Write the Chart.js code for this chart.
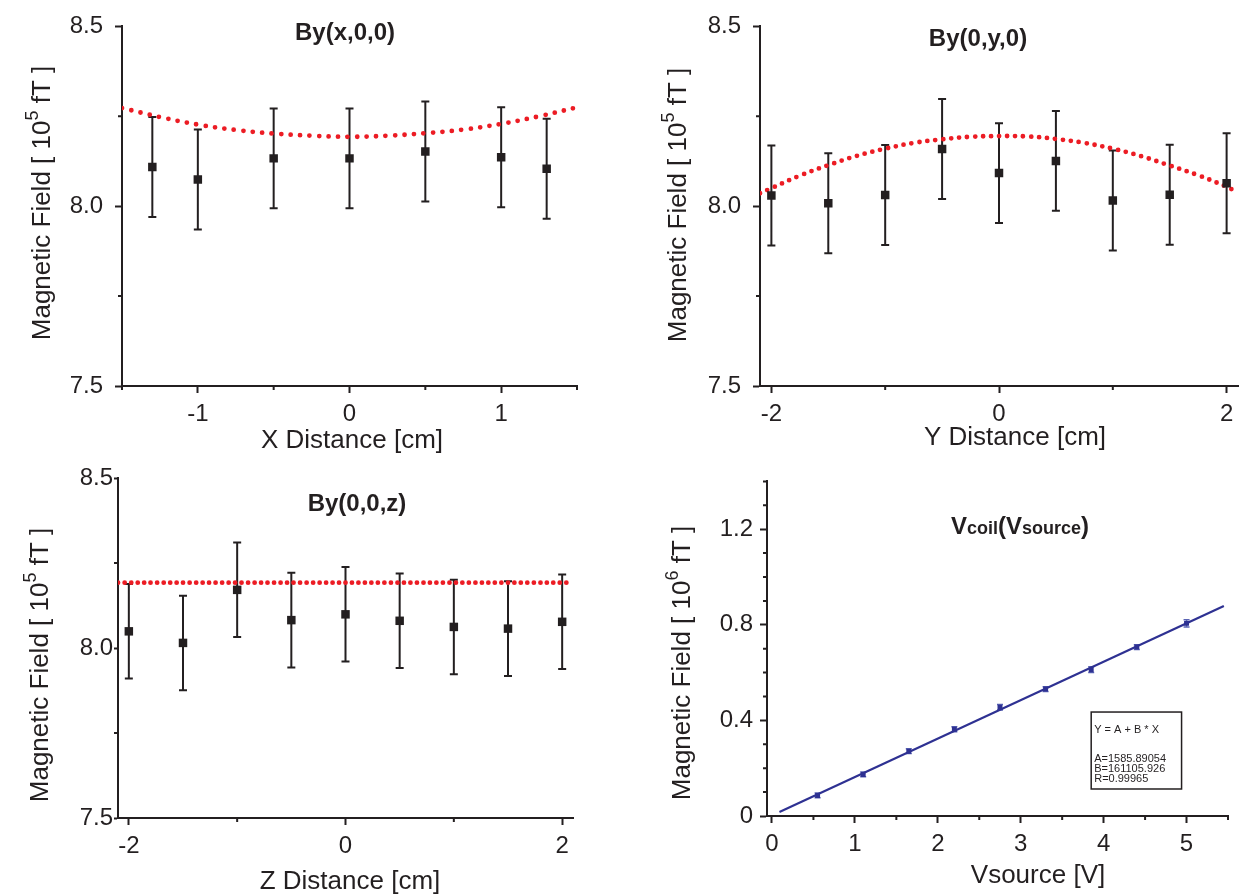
<!DOCTYPE html>
<html>
<head>
<meta charset="utf-8">
<title>Magnetic field of the coil</title>
<script src="https://cdn.jsdelivr.net/npm/chart.js@4.4.1/dist/chart.umd.min.js"></script>
<style>
  html, body { margin: 0; padding: 0; background: #fff; }
  #wrap { position: relative; width: 1240px; height: 896px; overflow: hidden; }
  canvas { position: absolute; }
</style>
</head>
<body>
<div id="wrap">
  <canvas id="cX" width="620" height="460" style="left:0;top:0"></canvas>
  <canvas id="cY" width="624" height="460" style="left:620px;top:0"></canvas>
  <canvas id="cZ" width="620" height="436" style="left:0;top:460px"></canvas>
  <canvas id="cV" width="620" height="436" style="left:620px;top:460px"></canvas>
</div>
<script>
// By(x,0,0) - measured points with error bars
var xPos = [-1.3, -1.0, -0.5, 0, 0.5, 1.0, 1.3];
var xField = [8.109, 8.074, 8.133, 8.133, 8.152, 8.136, 8.104];
var xErr = [0.139, 0.139, 0.139, 0.139, 0.139, 0.139, 0.139];
// calculated curve
var xCalcPos = [-1.5, -1.25, -1.0, -0.75, -0.5, -0.25, 0, 0.25, 0.5, 0.75, 1.0, 1.25, 1.5];
var xCalc = [8.273, 8.248, 8.227, 8.212, 8.202, 8.196, 8.193, 8.196, 8.203, 8.213, 8.229, 8.250, 8.275];

// By(0,y,0)
var yPos = [-2, -1.5, -1, -0.5, 0, 0.5, 1, 1.5, 2];
var yField = [8.030, 8.008, 8.031, 8.159, 8.092, 8.126, 8.016, 8.032, 8.064];
var yErr = [0.139, 0.139, 0.139, 0.139, 0.139, 0.139, 0.139, 0.139, 0.139];
var yCalcPos = [-2.1, -2, -1.75, -1.5, -1.25, -1, -0.75, -0.5, -0.25, 0, 0.25, 0.5, 0.75, 1, 1.25, 1.5, 1.75, 2, 2.1];
var yCalc = [8.036, 8.050, 8.085, 8.114, 8.140, 8.160, 8.176, 8.186, 8.193, 8.195, 8.194, 8.187, 8.176, 8.160, 8.139, 8.113, 8.086, 8.054, 8.038];

// By(0,0,z)
var zPos = [-2, -1.5, -1, -0.5, 0, 0.5, 1, 1.5, 2];
var zField = [8.049, 8.015, 8.171, 8.082, 8.099, 8.080, 8.062, 8.057, 8.077];
var zErr = [0.139, 0.139, 0.139, 0.139, 0.139, 0.139, 0.139, 0.139, 0.139];
var zCalcPos = [-2.1, 2.1];
var zCalc = [8.192, 8.192];

// Vcoil(Vsource)
var vSource = [0.55, 1.1, 1.65, 2.2, 2.75, 3.3, 3.85, 4.4, 5.0];
var vField = [0.086, 0.174, 0.271, 0.363, 0.455, 0.531, 0.612, 0.707, 0.806];
var vErr = [0.010, 0.010, 0.010, 0.010, 0.012, 0.010, 0.012, 0.010, 0.015];
var fitPos = [0.09, 5.45];
var fitVal = [0.017, 0.879];
var fitText = ["Y = A + B * X", "", "A=1585.89054", "B=161105.926", "R=0.99965"];

// tick labels
var fieldTicks = [7.5, 8.0, 8.5];
var fieldMinor = [7.75, 8.25];
var xTicks = [-1, 0, 1];
var xMinor = [-1.5, -0.5, 0.5, 1.5];
var yzTicks = [-2, 0, 2];
var yzMinor = [-1, 1];
var vTicks = [0, 1, 2, 3, 4, 5];
var vMinor = [0.5, 1.5, 2.5, 3.5, 4.5, 5.5];
var vFieldTicks = [0, 0.4, 0.8, 1.2];
var vFieldMinor = [0.1, 0.2, 0.3, 0.5, 0.6, 0.7, 0.9, 1.0, 1.1, 1.3, 1.4];

var INK = '#231f20';
var RED = '#ec1c24';
var BLUE = '#2e3192';
var FONT = '"Liberation Sans", Arial, sans-serif';

function pts(xs, ys) {
    return xs.map(function (x, i) { return { x: x, y: ys[i] }; });
}

function axis(min, max, major, fmt, size, horizontal, tickLen, pad) {
    return {
        type: 'linear', min: min, max: max,
        afterBuildTicks: function (s) {
            s.ticks = major.map(function (v) { return { value: v }; });
        },
        afterFit: function (s) {
            if (horizontal) s.height = size; else s.width = size;
        },
        grid: { display: true, drawOnChartArea: false, drawTicks: true, tickLength: tickLen, tickWidth: 2, tickColor: INK, color: INK },
        border: { display: true, color: INK, width: 2 },
        ticks: {
            color: INK, font: { family: FONT, size: 24 }, padding: pad,
            maxRotation: 0, autoSkip: false, callback: fmt
        }
    };
}

// error bars, drawn from the chart's own scales
var errorBars = {
    id: 'errorBars',
    beforeDatasetsDraw: function (chart) {
        var ctx = chart.ctx, xs = chart.scales.x, ys = chart.scales.y;
        chart.data.datasets.forEach(function (ds) {
            if (!ds.errors) return;
            ctx.save();
            ctx.strokeStyle = ds.errorColor;
            ctx.lineWidth = ds.errorWidth;
            ctx.beginPath();
            ds.data.forEach(function (p, i) {
                var px = xs.getPixelForValue(p.x);
                var top = ys.getPixelForValue(p.y + ds.errors[i]);
                var bot = ys.getPixelForValue(p.y - ds.errors[i]);
                var c = ds.errorCap;
                ctx.moveTo(px, top); ctx.lineTo(px, bot);
                ctx.moveTo(px - c, top); ctx.lineTo(px + c, top);
                ctx.moveTo(px - c, bot); ctx.lineTo(px + c, bot);
            });
            ctx.stroke();
            ctx.restore();
        });
    }
};

function minorTicks(xm, ym) {
    return {
        id: 'minorTicks',
        afterDraw: function (chart) {
            var ctx = chart.ctx, ca = chart.chartArea;
            ctx.save();
            ctx.strokeStyle = INK;
            ctx.lineWidth = 2;
            ctx.beginPath();
            xm.forEach(function (v) {
                var px = chart.scales.x.getPixelForValue(v);
                ctx.moveTo(px, ca.bottom); ctx.lineTo(px, ca.bottom + 4);
            });
            ym.forEach(function (v) {
                var py = chart.scales.y.getPixelForValue(v);
                ctx.moveTo(ca.left, py); ctx.lineTo(ca.left - 4, py);
            });
            ctx.stroke();
            ctx.restore();
        }
    };
}

// titles with mixed sizes (superscripts, small letters)
function richText(items) {
    return {
        id: 'richText',
        afterDraw: function (chart) {
            var ctx = chart.ctx;
            items.forEach(function (it) {
                ctx.save();
                ctx.translate(it.x, it.y);
                if (it.rot) ctx.rotate(it.rot);
                ctx.fillStyle = INK;
                ctx.textBaseline = 'alphabetic';
                ctx.textAlign = 'left';
                var w = 0;
                it.parts.forEach(function (p) { ctx.font = p.font; w += ctx.measureText(p.text).width; });
                var cx = -w / 2;
                it.parts.forEach(function (p) {
                    ctx.font = p.font;
                    ctx.fillText(p.text, cx, p.dy || 0);
                    cx += ctx.measureText(p.text).width;
                });
                ctx.restore();
            });
        }
    };
}

var fitBox = {
    id: 'fitBox',
    afterDraw: function (chart) {
        var ctx = chart.ctx, xs = chart.scales.x, ys = chart.scales.y;
        var l = xs.getPixelForValue(3.85), r = xs.getPixelForValue(4.94);
        var t = ys.getPixelForValue(0.435), b = ys.getPixelForValue(0.113);
        ctx.save();
        ctx.strokeStyle = INK;
        ctx.lineWidth = 1.5;
        ctx.strokeRect(l, t, r - l, b - t);
        ctx.fillStyle = INK;
        ctx.font = '11px ' + FONT;
        ctx.textBaseline = 'middle';
        fitText.forEach(function (line, i) {
            var off = i === 0 ? 18 : 27 + i * 10;
            ctx.fillText(line, l + 3, t + off);
        });
        ctx.restore();
    }
};

var bigFont = '26px ' + FONT;
var supFont = '18px ' + FONT;
var boldFont = 'bold 24px ' + FONT;
var smallBold = 'bold 18px ' + FONT;

function yTitle(x, y, exp) {
    return {
        x: x, y: y, rot: -Math.PI / 2,
        parts: [
            { text: 'Magnetic Field [ 10', font: bigFont },
            { text: exp, font: supFont, dy: -12 },
            { text: ' fT ]', font: bigFont }
        ]
    };
}
function plain(x, y, text, font) {
    return { x: x, y: y, parts: [{ text: text, font: font }] };
}

function fieldData(xs, ys, errs, cx, cy, dash) {
    return [{
        data: pts(xs, ys), errors: errs, errorColor: INK, errorWidth: 2, errorCap: 4,
        pointStyle: 'rect', pointRadius: 6, backgroundColor: INK, borderWidth: 0, showLine: false
    }, {
        data: pts(cx, cy), showLine: true, pointRadius: 0, borderColor: RED, borderWidth: 4.8,
        borderDash: [0, dash], borderCapStyle: 'round', tension: 0.4
    }];
}

function panel(id, p) {
    var c = document.getElementById(id);
    var fmtY = p.fmtY || function (v) { return v.toFixed(1); };
    var fmtX = function (v) { return String(v); };
    return new Chart(c, {
        type: 'scatter',
        data: { datasets: p.datasets },
        options: {
            responsive: false, animation: false, events: [],
            layout: { padding: { left: 0, top: p.area.top, right: c.width - p.area.right, bottom: 0 } },
            scales: {
                x: axis(p.xRange[0], p.xRange[1], p.xTicks, fmtX, c.height - p.area.bottom, true, 7, 7),
                y: axis(p.yRange[0], p.yRange[1], p.yTicks, fmtY, p.area.left, false, p.yTick[0], p.yTick[1])
            },
            plugins: { legend: { display: false }, tooltip: { enabled: false } }
        },
        plugins: [errorBars, minorTicks(p.xMinor, p.yMinor), richText(p.texts)].concat(p.extra || [])
    });
}

panel('cX', {
    area: { left: 122, top: 25, right: 577, bottom: 386 },
    xRange: [-1.5, 1.5], yRange: [7.5, 8.5], yTick: [7, 12],
    xTicks: xTicks, xMinor: xMinor, yTicks: fieldTicks, yMinor: fieldMinor,
    datasets: fieldData(xPos, xField, xErr, xCalcPos, xCalc, 9.5),
    texts: [
        plain(345, 40, 'By(x,0,0)', boldFont),
        plain(352, 448, 'X Distance [cm]', bigFont),
        yTitle(50, 203, '5')
    ]
});

panel('cY', {
    area: { left: 140, top: 25, right: 624, bottom: 386 },
    xRange: [-2.1, 2.1], yRange: [7.5, 8.5], yTick: [7, 12],
    xTicks: yzTicks, xMinor: yzMinor, yTicks: fieldTicks, yMinor: fieldMinor,
    datasets: fieldData(yPos, yField, yErr, yCalcPos, yCalc, 8),
    texts: [
        plain(358, 46, 'By(0,y,0)', boldFont),
        plain(395, 445, 'Y Distance [cm]', bigFont),
        yTitle(66, 205, '5')
    ]
});

panel('cZ', {
    area: { left: 118, top: 18, right: 573, bottom: 358 },
    xRange: [-2.1, 2.1], yRange: [7.5, 8.5], yTick: [4, 1],
    xTicks: yzTicks, xMinor: yzMinor, yTicks: fieldTicks, yMinor: fieldMinor,
    datasets: fieldData(zPos, zField, zErr, zCalcPos, zCalc, 6.5),
    texts: [
        plain(357, 51, 'By(0,0,z)', boldFont),
        plain(350, 429, 'Z Distance [cm]', bigFont),
        yTitle(48, 205, '5')
    ]
});

panel('cV', {
    area: { left: 147, top: 20, right: 608, bottom: 356 },
    xRange: [-0.06, 5.5], yRange: [0, 1.4], yTick: [7, 7],
    xTicks: vTicks, xMinor: vMinor, yTicks: vFieldTicks, yMinor: vFieldMinor,
    fmtY: function (v) { return v === 0 ? '0' : v.toFixed(1); },
    datasets: [{
        data: pts(vSource, vField), errors: vErr, errorColor: '#5a64b4', errorWidth: 1.5, errorCap: 3,
        pointStyle: 'rect', pointRadius: 3.5, backgroundColor: BLUE, borderWidth: 0, showLine: false
    }, {
        data: pts(fitPos, fitVal), showLine: true, pointRadius: 0, borderColor: BLUE, borderWidth: 2.2
    }],
    texts: [
        {
            x: 400, y: 74, parts: [
                { text: 'V', font: boldFont }, { text: 'coil', font: smallBold },
                { text: '(V', font: boldFont }, { text: 'source', font: smallBold },
                { text: ')', font: boldFont }
            ]
        },
        plain(418, 423, 'Vsource [V]', bigFont),
        yTitle(70, 203, '6')
    ],
    extra: [fitBox]
});
</script>
</body>
</html>
